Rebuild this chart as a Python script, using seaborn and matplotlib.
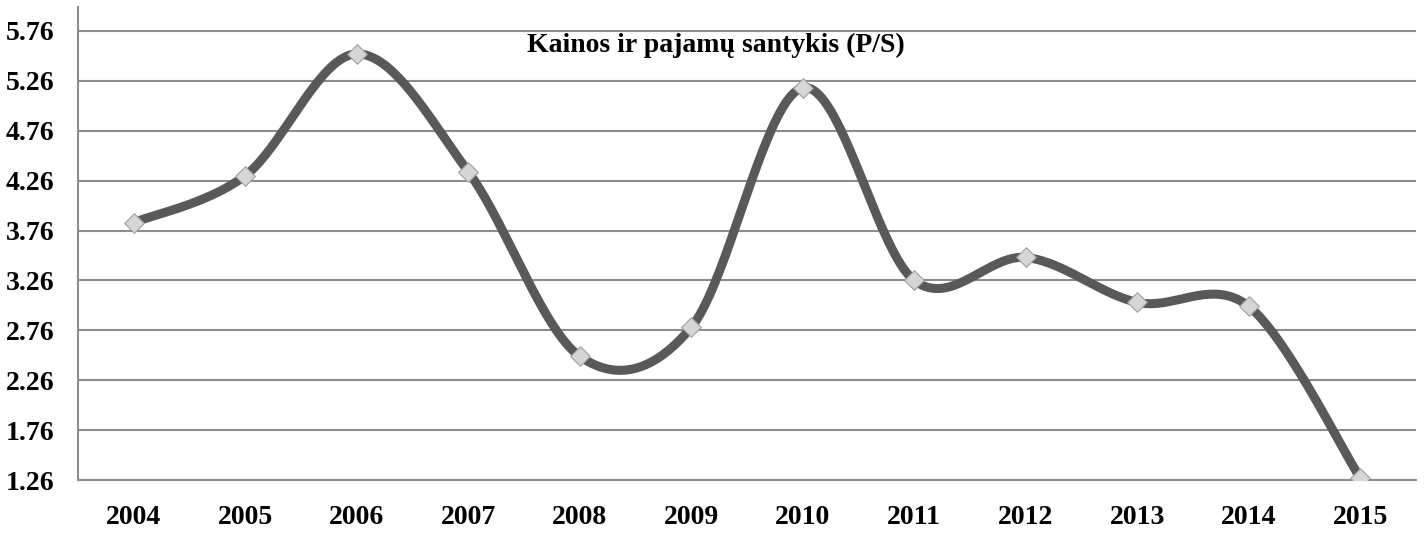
import numpy as np
import pandas as pd
import matplotlib
matplotlib.use("Agg")
import matplotlib.pyplot as plt
import seaborn as sns

years = ["2004", "2005", "2006", "2007", "2008", "2009", "2010", "2011", "2012", "2013", "2014", "2015"]
ps_ratio = [3.84, 4.31, 5.53, 4.35, 2.50, 2.79, 5.19, 3.26, 3.49, 3.04, 3.00, 1.28]
y_ticks = [1.26, 1.76, 2.26, 2.76, 3.26, 3.76, 4.26, 4.76, 5.26, 5.76]
title = "Kainos ir pajamų santykis (P/S)"

sns.set_theme(style="white")
plt.rcParams["font.family"] = ["Liberation Serif", "DejaVu Serif"]

fig = plt.figure(figsize=(14.28, 5.36), dpi=100)
ax = fig.add_axes([78 / 1428, 56 / 536, (1416 - 78) / 1428, (480 - 7) / 536])

# Smooth curve (Catmull-Rom / Bezier, like Excel's smoothed line) through the data
x = np.arange(len(years), dtype=float)
y = np.array(ps_ratio, dtype=float)
xs, ys = [], []
n = len(x)
for i in range(n - 1):
    p0 = np.array([x[max(i - 1, 0)], y[max(i - 1, 0)]])
    p1 = np.array([x[i], y[i]])
    p2 = np.array([x[i + 1], y[i + 1]])
    p3 = np.array([x[min(i + 2, n - 1)], y[min(i + 2, n - 1)]])
    c1 = p1 + (p2 - p0) / 6.0
    c2 = p2 - (p3 - p1) / 6.0
    t = np.linspace(0, 1, 40)[:, None]
    pts = ((1 - t) ** 3) * p1 + 3 * ((1 - t) ** 2) * t * c1 + 3 * (1 - t) * t ** 2 * c2 + t ** 3 * p2
    xs.extend(pts[:, 0]); ys.extend(pts[:, 1])
curve = pd.DataFrame({"x": xs, "y": ys})
sns.lineplot(data=curve, x="x", y="y", ax=ax, color="#595959", linewidth=6.5,
             sort=False, estimator=None, solid_capstyle="round", zorder=3)

df = pd.DataFrame({"x": x, "y": y})
sns.scatterplot(data=df, x="x", y="y", ax=ax, marker="D", s=100, color="#d6d6d6",
                edgecolor="#a0a0a0", linewidth=0.8, zorder=4)

ax.set_xlim(-0.5, len(years) - 0.5)
ax.set_ylim(1.26, 6.0)
ax.set_yticks(y_ticks)
ax.set_yticklabels([f"{v:.2f}" for v in y_ticks], fontsize=20, fontweight="bold")
ax.set_xticks(x)
ax.set_xticklabels(years, fontsize=20, fontweight="bold")
ax.set_xticks(np.arange(-0.5, len(years), 1.0), minor=True)
ax.tick_params(axis="x", which="major", length=0, pad=18, colors="black")
ax.tick_params(axis="x", which="minor", length=6, width=1.5, color="#8c8c8c", direction="out")
ax.tick_params(axis="y", length=7, width=1.5, color="#8c8c8c", pad=10)
for t in ax.get_yticklabels():
    t.set_color("black")
ax.yaxis.grid(True, color="#8c8c8c", linewidth=1.5)
ax.xaxis.grid(False)
ax.set_axisbelow(True)
for s in ["top", "right"]:
    ax.spines[s].set_visible(False)
for s in ["left", "bottom"]:
    ax.spines[s].set_color("#8c8c8c")
    ax.spines[s].set_linewidth(1.5)
ax.set_xlabel("")
ax.set_ylabel("")

fig.text((523 + 908) / 2 / 1428, 1 - 45 / 536, title, ha="center", va="center",
         fontsize=20, fontweight="bold", color="black")

fig.savefig("out.png", dpi=100)
